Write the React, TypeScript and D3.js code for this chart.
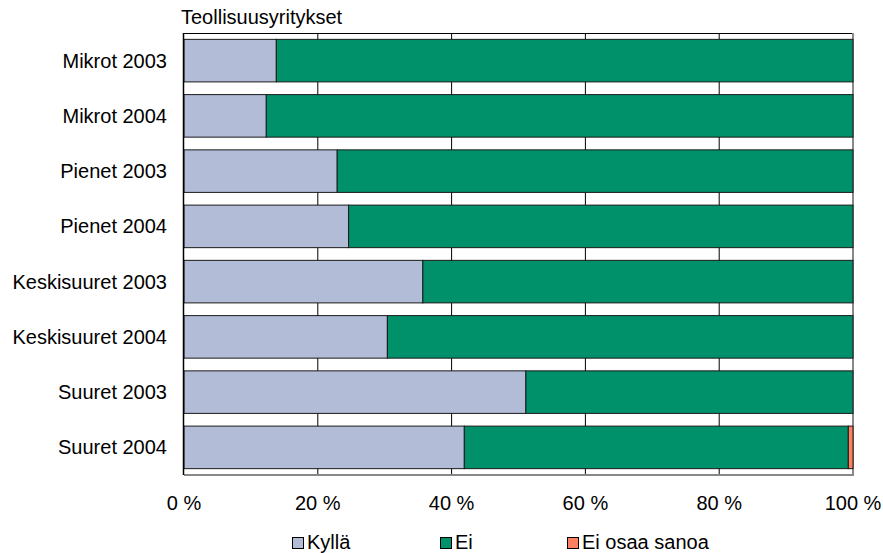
import React from "react";
import * as d3 from "d3";

// Category rows, top to bottom
const categories: string[] = [
  "Mikrot 2003",
  "Mikrot 2004",
  "Pienet 2003",
  "Pienet 2004",
  "Keskisuuret 2003",
  "Keskisuuret 2004",
  "Suuret 2003",
  "Suuret 2004",
];

// Share of answers (%) per series
const kylla: number[] = [13.8, 12.3, 22.9, 24.6, 35.7, 30.4, 51.1, 41.9];
const ei: number[] = [86.2, 87.7, 77.1, 75.4, 64.3, 69.6, 48.9, 57.4];
const eiOsaaSanoa: number[] = [0, 0, 0, 0, 0, 0, 0, 0.7];

const seriesNames: string[] = ["Kyllä", "Ei", "Ei osaa sanoa"];
const seriesColors: string[] = ["#B2BCD6", "#00906A", "#FF8060"];

const xTicks: number[] = [0, 20, 40, 60, 80, 100];
const title = "Teollisuusyritykset";

const W = 883;
const H = 553;
const FONT = "'Liberation Sans', Arial, sans-serif";
const FS = 20;

export default function App() {
  const plot = { left: 184, right: 853, top: 33, bottom: 475 };

  const x = d3.scaleLinear().domain([0, 100]).range([plot.left, plot.right]);
  const y = d3
    .scaleBand<string>()
    .domain(categories)
    .range([plot.top, plot.bottom])
    .paddingInner(0.23)
    .paddingOuter(0.115);

  const rows = categories.map((c, i) => ({
    cat: c,
    "Kyllä": kylla[i],
    Ei: ei[i],
    "Ei osaa sanoa": eiOsaaSanoa[i],
  }));
  const stacked = d3.stack<any>().keys(seriesNames)(rows);

  // legend entry x positions
  const legendX = [292, 440, 567];
  const legendY = 537;

  return (
    <svg
      width={W}
      height={H}
      style={{ position: "absolute", left: 0, top: 0, background: "#fff" }}
      fontFamily={FONT}
    >
      <rect x={0} y={0} width={W} height={H} fill="#fff" />

      {/* title */}
      <text x={181} y={24} fontSize={FS} fill="#000">
        {title}
      </text>

      {/* vertical gridlines */}
      {xTicks
        .filter((t) => t > 0 && t < 100)
        .map((t) => (
          <line
            key={t}
            x1={x(t)}
            x2={x(t)}
            y1={plot.top}
            y2={plot.bottom}
            stroke="#000"
            strokeWidth={1}
          />
        ))}

      {/* plot frame */}
      <line x1={plot.left} x2={plot.right} y1={plot.top + 0.5} y2={plot.top + 0.5} stroke="#000" strokeWidth={1} />
      <line x1={plot.right} x2={plot.right} y1={plot.top} y2={plot.bottom + 1} stroke="#888" strokeWidth={2} />
      <line x1={plot.left} x2={plot.right + 1} y1={plot.bottom} y2={plot.bottom} stroke="#888" strokeWidth={2} />

      {/* bars */}
      {stacked.map((s, si) => (
        <g key={s.key} fill={seriesColors[si]}>
          {s.map((d, i) => {
            const w = x(d[1]) - x(d[0]);
            if (w <= 0) return null;
            return (
              <rect
                key={i}
                x={x(d[0])}
                y={y(categories[i])!}
                width={w}
                height={y.bandwidth()}
                stroke="#1a1a1a"
                strokeWidth={1}
              />
            );
          })}
        </g>
      ))}

      {/* left axis line */}
      <line x1={plot.left - 0.5} x2={plot.left - 0.5} y1={plot.top} y2={plot.bottom} stroke="#000" strokeWidth={1.5} />

      {/* category labels */}
      {categories.map((c) => (
        <text
          key={c}
          x={167}
          y={y(c)! + y.bandwidth() / 2}
          dy="0.35em"
          textAnchor="end"
          fontSize={FS}
          fill="#000"
        >
          {c}
        </text>
      ))}

      {/* x tick labels */}
      {xTicks.map((t) => (
        <text key={t} x={x(t)} y={510} textAnchor="middle" fontSize={FS} fill="#000">
          {`${t} %`}
        </text>
      ))}

      {/* legend */}
      {seriesNames.map((n, i) => (
        <g key={n}>
          <rect
            x={legendX[i] + 0.5}
            y={legendY + 0.5}
            width={11}
            height={11}
            fill={seriesColors[i]}
            stroke="#000"
            strokeWidth={1}
          />
          <text x={legendX[i] + 15} y={legendY + 12} fontSize={FS} fill="#000">
            {n}
          </text>
        </g>
      ))}
    </svg>
  );
}
